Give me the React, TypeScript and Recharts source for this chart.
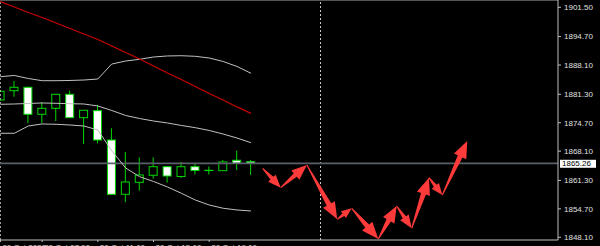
import { ComposedChart, Bar, Line, XAxis, YAxis, ReferenceLine } from 'recharts';

// candle index positions (0 = first visible bar)
const barIdx = [0, 1, 2, 3, 4, 5, 6, 7, 8, 9, 10, 11, 12, 13, 14, 15, 16, 17, 18];
const opens = [1879.98, 1882.14, 1882.93, 1876.66, 1878.05, 1881.3, 1875.87, 1877.5, 1870.69, 1858.08, 1860.87, 1862.5, 1864.49, 1862.22, 1864.49, 1863.66, 1863.56, 1865.98, 1865.65];
const highs = [1882.2, 1884.39, 1883.07, 1879.51, 1881.35, 1882.14, 1877.65, 1878.82, 1873.41, 1867.91, 1866.63, 1866.67, 1864.55, 1865.59, 1865.42, 1864.54, 1866.05, 1868.21, 1866.05];
const lows = [1879.8, 1880.74, 1874.57, 1874.57, 1875.1, 1875.8, 1869.76, 1869.93, 1858.0, 1856.23, 1858.92, 1861.71, 1860.78, 1861.87, 1862.68, 1862.68, 1863.49, 1863.73, 1862.57];
const closes = [1882.0, 1882.93, 1876.66, 1878.05, 1881.3, 1875.87, 1877.59, 1870.69, 1858.08, 1860.94, 1862.57, 1864.49, 1862.33, 1864.49, 1863.61, 1863.61, 1865.59, 1865.28, 1865.26];

// indicators
const maRed = [1902.8, 1901.57, 1900.29, 1899.13, 1897.85, 1896.58, 1895.3, 1894.02, 1892.52, 1891.01, 1889.5, 1887.87, 1886.25, 1884.74, 1883.11, 1881.49, 1879.98, 1878.36, 1876.89];
const bbUpper = [1885.39, 1885.67, 1884.97, 1884.46, 1884.46, 1884.51, 1884.62, 1884.85, 1888.33, 1889.03, 1889.43, 1889.96, 1890.2, 1890.26, 1890.12, 1889.73, 1888.92, 1887.76, 1886.18];
const bbMiddle = [1878.98, 1879.05, 1879.17, 1879.28, 1879.21, 1879.12, 1879.05, 1878.59, 1877.54, 1876.38, 1875.68, 1875.1, 1874.64, 1874.06, 1873.55, 1872.9, 1872.08, 1871.15, 1870.06];
const bbLower = [1872.25, 1872.25, 1873.94, 1874.41, 1874.34, 1874.17, 1873.94, 1873.01, 1868.18, 1864.19, 1862.17, 1861.06, 1859.78, 1858.32, 1856.76, 1855.6, 1854.84, 1854.44, 1854.21];

// drawn arrow path (future bars)
const arrowIdx = [18.84, 20.14, 22.02, 24.2, 25.24, 27.15, 28.47, 29.55, 30.79, 31.75, 33.54];
const arrowPrice = [1864.12, 1859.62, 1864.89, 1852.28, 1854.83, 1847.71, 1855.37, 1850.19, 1861.94, 1857.92, 1870.46];

const yTicks = [1848.1, 1854.7, 1861.3, 1868.1, 1874.7, 1881.3, 1888.1, 1894.7, 1901.5];
const xTickIdx = [0, 3, 7, 11, 15];
const xTickLabels = ['20 Oct 2020', '20 Oct 07:00', '20 Oct 11:00', '20 Oct 15:00', '20 Oct 19:00'];

const bidPrice = 1865.26;
const separatorIdx = 23;
const xMin = -0.03;
const xMax = 40.06;
const yMin = 1847.47;
const yMax = 1903.195;

const GREEN = '#00d800';
const FONT = '"Liberation Sans", Arial, sans-serif';

const candles = barIdx.map((i, k) => ({
  i,
  open: opens[k],
  high: highs[k],
  low: lows[k],
  close: closes[k],
  range: [lows[k], highs[k]],
  ma: maRed[k],
  up: bbUpper[k],
  mid: bbMiddle[k],
  lo: bbLower[k],
}));

const arrows = arrowIdx.map((i, k) => ({ i, v: arrowPrice[k] }));

function Candle(props: any) {
  const { x, y, width, height, payload } = props;
  if (x == null || y == null) return <g />;
  const top = Math.min(y, y + height);
  const h = Math.abs(height);
  const cx = x + width / 2;
  const span = payload.high - payload.low || 1;
  const py = (v: number) => top + ((payload.high - v) / span) * h;
  const bTop = py(Math.max(payload.open, payload.close));
  const bBot = py(Math.min(payload.open, payload.close));
  const bear = payload.close < payload.open;
  return (
    <g>
      <line x1={cx} x2={cx} y1={top} y2={top + h} stroke={GREEN} strokeWidth={1} />
      <rect
        x={cx - 4}
        y={bTop}
        width={8}
        height={Math.max(bBot - bTop, 0.3)}
        fill={bear ? '#ffffff' : '#000000'}
        stroke={GREEN}
        strokeWidth={1}
      />
    </g>
  );
}

let lastPt: { x: number; y: number } | null = null;

function ArrowDot(props: any) {
  const { cx, cy, index, points } = props;
  let prev = points && index > 0 ? points[index - 1] : index > 0 ? lastPt : null;
  lastPt = { x: cx, y: cy };
  if (!prev) return <g key={`a-${index}`} />;
  const dx = cx - prev.x;
  const dy = cy - prev.y;
  const len = Math.hypot(dx, dy) || 1;
  const ux = dx / len;
  const uy = dy / len;
  const nx = -uy;
  const ny = ux;
  const hl = Math.min(17, 5 + 0.3 * len);
  const hw = hl * 0.4;
  const sw = hw * 0.38;
  const bx = cx - ux * hl;
  const by = cy - uy * hl;
  const pts = [
    [prev.x + nx * 0.5, prev.y + ny * 0.5],
    [bx + nx * sw, by + ny * sw],
    [bx + nx * hw, by + ny * hw],
    [cx, cy],
    [bx - nx * hw, by - ny * hw],
    [bx - nx * sw, by - ny * sw],
    [prev.x - nx * 0.5, prev.y - ny * 0.5],
  ];
  return <polygon key={`a-${index}`} points={pts.map((p) => p.join(',')).join(' ')} fill="#ff3a3a" />;
}

function BidTag(props: any) {
  const vb = props.viewBox;
  if (!vb) return null;
  const x = vb.x + vb.width + 2;
  return (
    <g>
      <rect x={x} y={vb.y - 3.6} width={36} height={8} fill="#ffffff" />
      <text x={x + 2} y={vb.y + 3} fontSize={8} fontFamily={FONT} fill="#000000">
        {bidPrice.toFixed(2)}
      </text>
    </g>
  );
}

export default function App() {
  return (
    <div style={{ position: 'absolute', left: 0, top: 0, width: 600, height: 246, background: '#000' }}>
      <ComposedChart width={600} height={246} data={candles} margin={{ top: 0, right: 0, bottom: 0, left: 0 }}>
        <XAxis
          dataKey="i"
          type="number"
          domain={[xMin, xMax]}
          allowDataOverflow
          ticks={xTickIdx}
          interval={0}
          height={6}
          stroke="#c0c0c0"
          tickSize={2}
          tickMargin={2}
          tickFormatter={(v: number) => xTickLabels[xTickIdx.indexOf(v)] ?? ''}
          tick={{ textAnchor: 'start', fontSize: 8, fill: '#d8d8d8', fontFamily: FONT, dx: 2 }}
        />
        <YAxis
          orientation="right"
          type="number"
          domain={[yMin, yMax]}
          allowDataOverflow
          ticks={yTicks}
          interval={0}
          width={42}
          stroke="#c0c0c0"
          tickSize={3}
          tickMargin={3}
          tickFormatter={(v: number) => v.toFixed(2)}
          tick={{ fontSize: 8, fill: '#e0e0e0', fontFamily: FONT }}
        />
        <ReferenceLine y={yMax} stroke="#555555" strokeWidth={2} />
        <ReferenceLine x={xMin} stroke="#d0d0d0" strokeWidth={1.5} strokeDasharray="2 2" />
        <ReferenceLine x={separatorIdx} stroke="#d0d0d0" strokeWidth={1} strokeDasharray="2 2" />
        <ReferenceLine y={bidPrice} stroke="#596069" strokeWidth={1.6} label={<BidTag />} />
        <Line dataKey="up" type="linear" stroke="#c0c0c0" strokeWidth={1} dot={false} activeDot={false} isAnimationActive={false} />
        <Line dataKey="mid" type="linear" stroke="#c0c0c0" strokeWidth={1} dot={false} activeDot={false} isAnimationActive={false} />
        <Line dataKey="lo" type="linear" stroke="#c0c0c0" strokeWidth={1} dot={false} activeDot={false} isAnimationActive={false} />
        <Line dataKey="ma" type="linear" stroke="#c80000" strokeWidth={1.3} dot={false} activeDot={false} isAnimationActive={false} />
        <Bar dataKey="range" barSize={9} shape={<Candle />} isAnimationActive={false} />
        <Line
          data={arrows}
          dataKey="v"
          type="linear"
          stroke="none"
          dot={(p: any) => ArrowDot(p)}
          activeDot={false}
          isAnimationActive={false}
        />
      </ComposedChart>
    </div>
  );
}
